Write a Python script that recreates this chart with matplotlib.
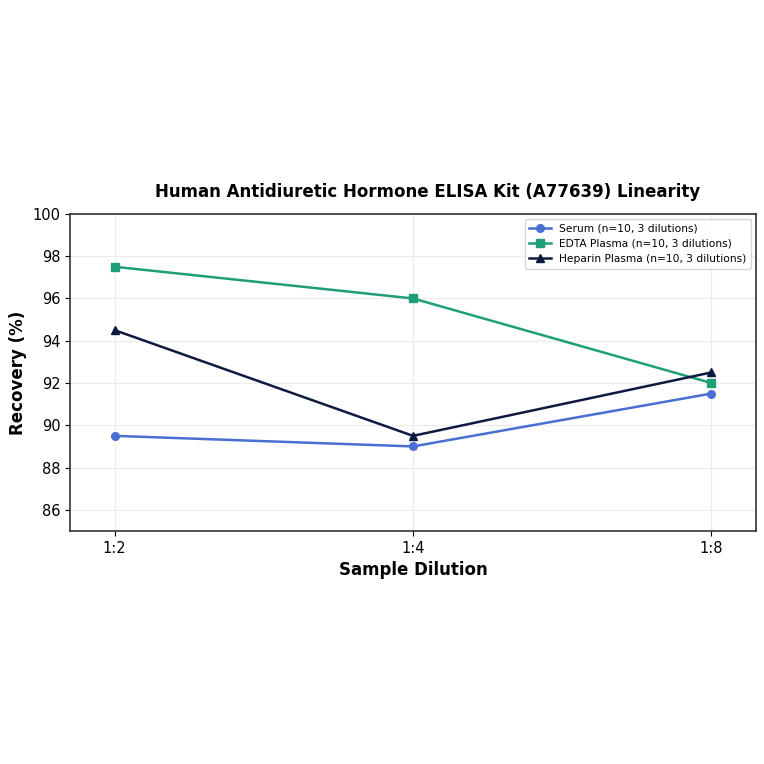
import numpy as np
import matplotlib.pyplot as plt

dilutions = ["1:2", "1:4", "1:8"]
serum = [89.5, 89.0, 91.5]
edta = [97.5, 96.0, 92.0]
heparin = [94.5, 89.5, 92.5]

fig = plt.figure(figsize=(7.64, 7.64), dpi=100)
ax = fig.add_axes([0.0916, 0.305, 0.898, 0.415])

x = np.arange(len(dilutions))
ax.plot(x, serum, '-o', color='#4a6fd3', lw=1.8, ms=5.5, label='Serum (n=10, 3 dilutions)')
ax.plot(x, edta, '-s', color='#1f9e78', lw=1.8, ms=5.5, label='EDTA Plasma (n=10, 3 dilutions)')
ax.plot(x, heparin, '-^', color='#0e1a42', lw=1.8, ms=5.5, label='Heparin Plasma (n=10, 3 dilutions)')

ax.set_xlim(-0.15, 2.15)
ax.set_ylim(85, 100)
ax.set_yticks([86, 88, 90, 92, 94, 96, 98, 100])
ax.set_xticks(x)
ax.set_xticklabels(dilutions)
ax.tick_params(labelsize=10.5)
ax.grid(True, color='#ececec', lw=0.8)
ax.set_axisbelow(True)
for s in ax.spines.values():
    s.set_color('#333333')
    s.set_linewidth(1.2)

ax.set_xlabel('Sample Dilution', fontsize=12, fontweight='bold')
ax.set_ylabel('Recovery (%)', fontsize=12, fontweight='bold')
ax.set_title('Human Antidiuretic Hormone ELISA Kit (A77639) Linearity',
             fontsize=12, fontweight='bold', pad=12, x=0.521)
ax.legend(loc='upper right', fontsize=7.7)

fig.savefig('out.png', dpi=100)
